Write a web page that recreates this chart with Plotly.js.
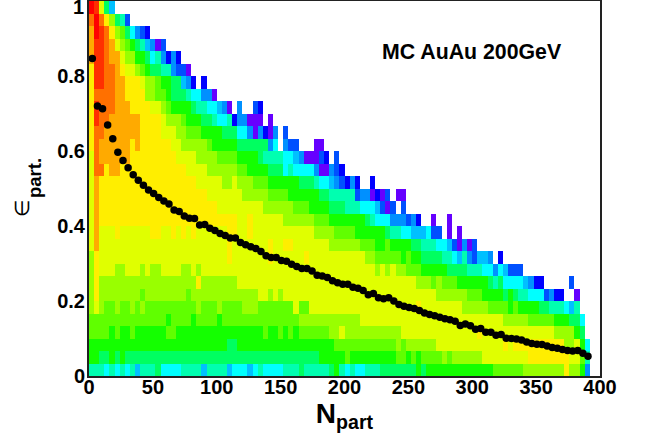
<!DOCTYPE html>
<html><head><meta charset="utf-8">
<script src="https://cdn.plot.ly/plotly-3.0.1.min.js"></script>
<style>html,body{margin:0;padding:0;background:#fff}</style></head>
<body><div id="chart" style="width:646px;height:445px"></div>
<script>
// heat-map levels per row of eps bins, top row first: "startBin:level"; level 0 = empty
var heatRows = [
"0:17 1:16 2:12 3:8 4:5 5:0",
"0:15 1:17 2:15 3:13 4:11 5:8 6:7 7:3 8:0",
"0:14 1:17 2:16 3:15 4:13 5:11 6:10 7:8 8:6 9:4 10:3 11:2 12:0",
"0:14 1:16 3:15 4:14 5:12 6:11 7:10 8:9 9:8 10:7 11:5 12:4 13:1 14:3 15:0",
"0:14 1:16 3:15 4:14 6:12 7:11 9:9 11:8 12:6 13:7 14:4 15:2 16:4 17:2 18:0",
"0:13 1:16 3:15 5:14 6:13 7:12 9:11 10:10 11:9 12:8 14:7 16:4 17:3 19:1 20:0",
"0:13 1:16 3:15 5:14 7:13 10:12 11:11 13:10 14:9 16:8 18:5 19:4 20:2 21:0 22:2 23:0",
"0:13 1:15 5:14 7:13 11:11 13:10 15:9 16:8 19:7 20:6 22:4 24:1 25:0",
"0:13 1:16 2:15 5:14 8:13 12:12 14:11 15:10 16:9 20:8 21:7 23:6 25:5 26:4 27:1 28:0 29:4 30:0 32:3 33:2 34:0",
"0:13 1:16 2:15 4:14 10:13 14:12 15:11 18:10 19:9 22:8 24:7 25:6 27:7 28:2 29:4 31:1 34:0 35:1 36:0",
"0:13 1:15 3:14 10:13 14:12 17:11 19:10 22:9 26:8 29:6 31:4 32:1 33:4 34:2 35:1 36:4 37:0 38:3 39:0",
"0:13 1:15 2:14 8:13 9:14 10:13 16:12 18:11 23:10 24:9 29:8 35:4 36:6 37:0 38:4 39:3 41:0 44:1 46:0",
"0:12 1:15 2:14 8:13 17:12 21:11 25:10 29:9 33:8 34:7 38:6 40:5 41:4 42:1 45:3 46:2 47:0 48:3 49:0",
"0:12 1:15 3:13 4:14 6:13 19:12 23:11 29:10 31:9 35:8 38:6 39:7 40:6 44:4 45:1 47:4 48:3 49:2 50:0",
"0:12 1:14 2:13 21:12 26:11 28:12 29:11 32:10 35:9 41:8 44:7 45:6 47:5 48:4 49:3 50:2 51:4 52:2 53:0 55:2 56:0",
"0:12 1:14 2:13 23:12 30:11 35:10 39:9 45:8 47:7 52:3 53:4 55:1 56:2 57:1 58:3 59:0 60:1 62:0",
"0:12 1:14 2:13 25:12 34:11 40:10 43:9 47:8 50:7 53:6 56:5 57:3 58:1 59:3 60:0 61:3 62:0",
"0:12 1:14 2:13 29:12 31:13 32:12 38:11 44:10 47:9 54:8 55:7 56:6 59:4 62:3 63:4 64:2 65:0 67:1 68:0 70:1 71:0",
"0:12 1:14 2:12 5:13 6:12 12:13 14:12 16:13 17:12 18:13 19:12 20:13 21:12 27:13 29:12 31:13 32:12 44:11 48:10 52:9 58:8 59:7 61:6 63:5 66:6 67:3 69:0 70:1 71:0 72:1 73:0",
"0:12 1:14 2:12 27:13 28:12 35:13 36:12 38:13 40:12 47:11 53:10 56:9 58:10 59:9 63:8 65:7 68:6 70:5 71:3 72:1 73:4 74:1 75:3 76:0",
"0:11 1:13 2:12 27:13 28:12 35:13 36:12 42:13 43:12 54:11 56:10 61:9 62:10 63:9 65:8 69:7 71:6 72:5 73:7 74:4 75:3 76:5 78:4 79:0 80:2 81:0",
"0:11 1:13 2:12 5:11 7:12 10:11 11:12 12:11 14:12 18:11 20:12 21:11 22:12 56:11 57:12 58:11 59:12 60:11 62:10 65:9 70:8 74:7 77:6 79:4 80:6 81:5 82:3 85:0",
"0:11 1:13 2:11 21:13 22:11 29:12 64:11 67:10 68:11 69:10 72:9 78:8 79:7 80:8 81:6 85:5 86:4 87:2 89:0 94:3 95:0",
"0:11 1:13 2:11 10:10 11:11 19:10 20:11 33:12 35:11 36:12 37:11 38:12 68:11 74:10 77:9 81:8 82:9 83:8 84:7 86:6 89:3 90:4 91:2 93:0 95:1 96:0",
"0:11 1:12 2:11 3:10 5:11 6:10 8:11 9:10 10:11 11:10 21:11 22:10 25:11 26:10 30:11 33:10 40:12 41:10 43:12 64:13 65:12 73:11 78:10 82:9 83:10 84:9 88:8 90:7 93:6 94:5 95:7 96:0",
"0:10 15:9 16:10 20:9 21:10 25:9 26:10 41:11 53:12 81:11 86:10 91:9 94:8 96:6 97:0",
"0:10 4:9 5:10 6:9 8:10 9:9 15:10 17:9 34:10 35:9 37:10 38:9 39:10 40:9 41:10 47:11 49:12 50:11 61:12 76:13 77:12 91:11 95:9 96:8 97:0",
"0:9 27:8 29:9 48:10 60:11 61:10 62:11 68:12 81:13 82:12 83:13 93:11 95:12 96:9 97:6 98:0",
"0:9 2:8 4:9 5:8 6:9 7:8 45:9 50:10 51:9 60:10 62:9 63:10 64:9 65:10 69:11 70:10 71:11 77:12 86:13 94:12 96:10 97:7 98:0",
"0:7 3:6 4:7 5:6 6:7 7:6 8:7 9:5 10:7 13:8 14:6 18:7 22:5 23:7 27:5 28:6 31:5 32:6 33:7 34:6 38:7 41:8 42:7 47:8 48:9 49:7 50:6 51:7 52:6 54:7 57:8 64:9 65:8 66:9 79:10 85:11 93:13 94:11 96:9 97:4 98:0"
];
var levelColors = ["#6600ff","#0000ff","#0050ff","#0090ff","#00c0ff","#00ffff","#00ffb0","#00ff60","#14ff00","#60ff00","#99ff00","#e0ff00","#ffee00","#ffaa00","#ff7000","#ff3000","#ff0000"];
// mean eccentricity per Npart bin
var meanEps = [0.847,0.720,0.713,0.669,0.633,0.597,0.575,0.555,0.537,0.522,0.509,0.496,0.487,0.476,0.467,0.459,0.443,0.439,0.427,0.421,
0.420,0.403,0.404,0.394,0.388,0.380,0.375,0.368,0.368,0.356,0.350,0.345,0.340,0.332,0.321,0.316,0.316,0.308,0.306,0.298,
0.292,0.287,0.287,0.280,0.269,0.267,0.263,0.254,0.249,0.2445,0.2445,0.237,0.234,0.228,0.217,0.220,0.209,0.206,0.209,0.200,
0.191,0.186,0.183,0.180,0.175,0.168,0.164,0.161,0.157,0.153,0.150,0.146,0.135,0.139,0.134,0.125,0.127,0.117,0.117,0.109,
0.111,0.101,0.100,0.099,0.096,0.091,0.087,0.085,0.084,0.080,0.076,0.074,0.071,0.068,0.067,0.068,0.061,0.053];
var xTicks = [0,50,100,150,200,250,300,350,400];
var yTicks = [0,0.2,0.4,0.6,0.8];
var yTickText = ["0","0.2","0.4","0.6","0.8"];
var yTopLabel = "1";
var nCols = 100, nRows = 30, binX = 4, binY = 1/30;

var z = [];
for (var r = 0; r < nRows; r++) {
  var row = new Array(nCols).fill(null);
  var toks = heatRows[nRows-1-r].split(" ").map(function(t){return t.split(":").map(Number);});
  toks.forEach(function(t,i){
    var end = i+1 < toks.length ? toks[i+1][0] : nCols;
    for (var c = t[0]; c < end; c++) row[c] = t[1] === 0 ? null : t[1];
  });
  z.push(row);
}
var scale = levelColors.map(function(c,i){return [i/(levelColors.length-1), c];});
var px = meanEps.map(function(v,i){return (i+0.5)*binX+0.6;});

var fam = '"Liberation Sans", Arial, sans-serif';
function f(size){return {family:fam,color:'#000',weight:700,size:size};}
function ax(p){return (p-89)/511;}
function ay(p){return (376-p)/375;}
var note = {xref:'paper',yref:'paper',showarrow:false,xanchor:'center',yanchor:'middle',borderpad:0};
function an(o){return Object.assign({},note,o);}

Plotly.newPlot('chart',[
 {type:'heatmap',z:z,x0:binX/2,dx:binX,y0:binY/2,dy:binY,zmin:1,zmax:17,colorscale:scale,showscale:false,zsmooth:false,hoverongaps:false},
 {type:'scatter',mode:'markers',x:px,y:meanEps,marker:{color:'#000',size:7.5},cliponaxis:false}
],{
 width:646,height:445,showlegend:false,paper_bgcolor:'#fff',plot_bgcolor:'#fff',
 margin:{l:89,r:46,t:1,b:69,pad:0},
 xaxis:{range:[0,400],tickvals:xTicks,ticktext:xTicks.map(String),ticks:'',showgrid:false,zeroline:false,showline:true,mirror:true,linecolor:'#222',linewidth:2,
   ticklabeloverflow:'allow',ticklabelstandoff:-8,tickfont:f(20),title:{text:'N<sub>part</sub>',font:f(28),standoff:4}},
 yaxis:{range:[0,1],tickvals:yTicks,ticktext:yTickText,ticks:'',showgrid:false,zeroline:false,showline:true,mirror:true,linecolor:'#222',linewidth:2,
   ticklabeloverflow:'allow',ticklabelstandoff:-2,tickfont:f(20)},
 annotations:[
  an({text:'MC AuAu 200GeV',xanchor:'left',font:f(21.3),x:ax(381),y:ay(52)}),
  an({text:yTopLabel,xanchor:'right',font:f(20),x:ax(85),y:ay(7.5)}),
  an({text:'∈',textangle:-90,font:{family:fam,color:'#000',size:20},x:ax(22),y:ay(209)}),
  an({text:'part.',textangle:-90,font:f(18.5),x:ax(34),y:ay(178)})
 ]
},{displayModeBar:false,staticPlot:true});
</script></body></html>
